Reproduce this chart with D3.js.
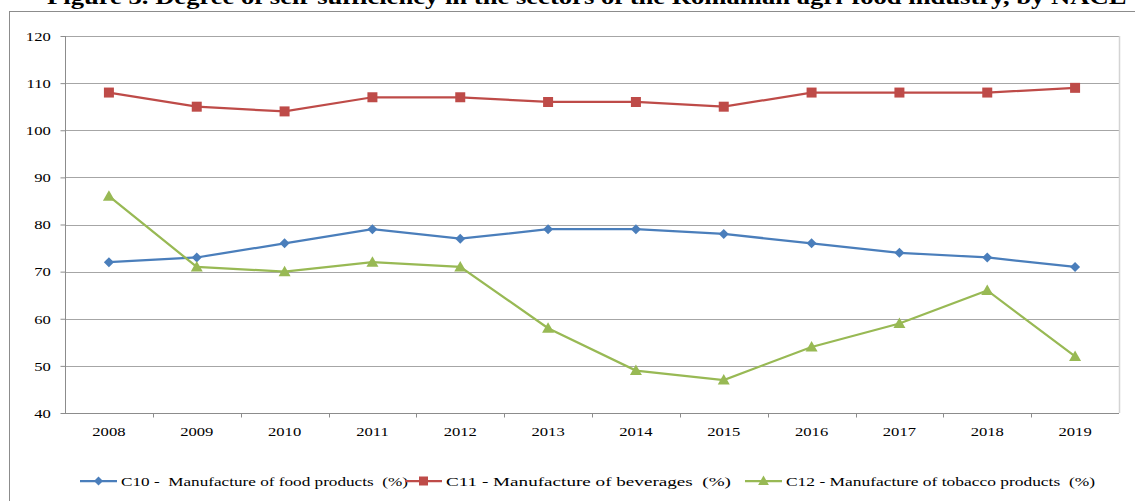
<!DOCTYPE html>
<html lang="en">
<head>
<meta charset="UTF-8">
<title>Self-sufficiency by NACE</title>
<script src="https://cdn.jsdelivr.net/npm/d3@7"></script>
<style>
    body { margin: 0; background: #fff; }
    svg { display: block; font-family: "Liberation Serif", "DejaVu Serif", serif; }
    .axis text { font-family: "Liberation Serif", serif; font-size: 13.5px; fill: #000; }
    .legend text { font-size: 13.5px; fill: #000; white-space: pre; }
</style>
</head>
<body>
<svg width="1135" height="501"></svg>
<script>
    var years = ["2008", "2009", "2010", "2011", "2012", "2013", "2014", "2015", "2016", "2017", "2018", "2019"];
    var food = [72, 73, 76, 79, 77, 79, 79, 78, 76, 74, 73, 71];
    var beverages = [108, 105, 104, 107, 107, 106, 106, 105, 108, 108, 108, 109];
    var tobacco = [86, 71, 70, 72, 71, 58, 49, 47, 54, 59, 66, 52];
    var yTicks = [40, 50, 60, 70, 80, 90, 100, 110, 120];
    var seriesNames = [
        "C10 -  Manufacture of food products  (%)",
        "C11 - Manufacture of beverages  (%)",
        "C12 - Manufacture of tobacco products  (%)"
    ];

    var series = [
        { name: seriesNames[0], values: food, color: "#4a7ebb", marker: "diamond" },
        { name: seriesNames[1], values: beverages, color: "#be4b48", marker: "square" },
        { name: seriesNames[2], values: tobacco, color: "#98b954", marker: "triangle" }
    ];

    var svg = d3.select("svg");
    var plot = { left: 65, right: 1119, top: 36, bottom: 413 };
    var stretch = 1.23; // the picture's text is a bit wide

    // title, partly cut at the top of the page
    svg.append("text")
        .attr("transform", "translate(47,4) scale(1.21,1)")
        .attr("font-size", 22).attr("font-weight", "bold")
        .text("Figure 3. Degree of self-sufficiency in the sectors of the Romanian agri-food industry, by NACE");

    // outer chart frame
    svg.append("rect")
        .attr("x", 9.5).attr("y", 11.5)
        .attr("width", 1140).attr("height", 500)
        .attr("fill", "none").attr("stroke", "#8c8c8c");

    var x = d3.scaleBand().domain(years).range([plot.left, plot.right]);
    var y = d3.scaleLinear().domain([40, 120]).range([plot.bottom, plot.top]);

    // grid lines
    svg.append("g").selectAll("line")
        .data(yTicks.slice(1))
        .enter().append("line")
        .attr("x1", plot.left).attr("x2", plot.right)
        .attr("y1", function(d) { return Math.round(y(d)) + 0.5; })
        .attr("y2", function(d) { return Math.round(y(d)) + 0.5; })
        .attr("stroke", "#a6a6a6");

    // right edge of plot area
    svg.append("line")
        .attr("x1", plot.right + 0.5).attr("x2", plot.right + 0.5)
        .attr("y1", plot.top).attr("y2", plot.bottom)
        .attr("stroke", "#d4d4d4").attr("stroke-width", 1.5);

    // y axis
    var yAxis = svg.append("g").attr("class", "axis")
        .attr("transform", "translate(" + (plot.left + 0.5) + ",0)")
        .call(d3.axisLeft(y).tickValues(yTicks).tickSize(5).tickPadding(7));
    yAxis.selectAll("line, path").attr("stroke", "#8c8c8c");
    yAxis.select(".domain").attr("d", "M0," + plot.top + "V" + plot.bottom);
    yAxis.selectAll("text").attr("transform", "scale(" + stretch + ",1)");

    // x axis, ticks between categories
    var xAxis = svg.append("g").attr("class", "axis")
        .attr("transform", "translate(0," + (plot.bottom + 0.5) + ")")
        .call(d3.axisBottom(x).tickSize(0).tickPadding(13));
    xAxis.select(".domain").attr("stroke", "#8c8c8c")
        .attr("d", "M" + plot.left + ",0H" + plot.right);
    xAxis.selectAll("text").attr("transform", "scale(" + stretch + ",1)");
    xAxis.selectAll(".sep")
        .data(years.slice(1))
        .enter().append("line")
        .attr("class", "sep")
        .attr("x1", function(d) { return Math.round(x(d)) + 0.5; })
        .attr("x2", function(d) { return Math.round(x(d)) + 0.5; })
        .attr("y1", 0).attr("y2", 4)
        .attr("stroke", "#8c8c8c");

    function markerPath(type) {
        if (type === "diamond") return d3.symbol().type(d3.symbolDiamond2).size(64)();
        if (type === "square") return "M-5,-5H5V5H-5Z";
        return "M0,-6L6,4.5H-6Z";
    }

    var line = d3.line()
        .x(function(d, i) { return x(years[i]) + x.bandwidth() / 2; })
        .y(function(d) { return y(d); });

    series.forEach(function(s) {
        var g = svg.append("g");
        g.append("path")
            .attr("d", line(s.values))
            .attr("fill", "none")
            .attr("stroke", s.color)
            .attr("stroke-width", 2.25);
        g.selectAll("path.m")
            .data(s.values)
            .enter().append("path")
            .attr("class", "m")
            .attr("d", markerPath(s.marker))
            .attr("transform", function(d, i) {
                return "translate(" + (x(years[i]) + x.bandwidth() / 2) + "," + y(d) + ")";
            })
            .attr("fill", s.color);
    });

    // legend
    var legendX = [80, 405, 745];
    var legendW = [287, 285, 309];
    var legend = svg.append("g").attr("class", "legend");
    series.forEach(function(s, i) {
        var g = legend.append("g").attr("transform", "translate(" + legendX[i] + ",481)");
        g.append("line")
            .attr("x1", 0).attr("x2", 37)
            .attr("stroke", s.color).attr("stroke-width", 2.25);
        g.append("path")
            .attr("d", markerPath(s.marker))
            .attr("transform", "translate(18.5,0) scale(0.9)")
            .attr("fill", s.color);
        g.append("text")
            .attr("x", 41).attr("y", 5)
            .attr("textLength", legendW[i])
            .attr("lengthAdjust", "spacingAndGlyphs")
            .text(s.name);
    });
</script>
</body>
</html>
